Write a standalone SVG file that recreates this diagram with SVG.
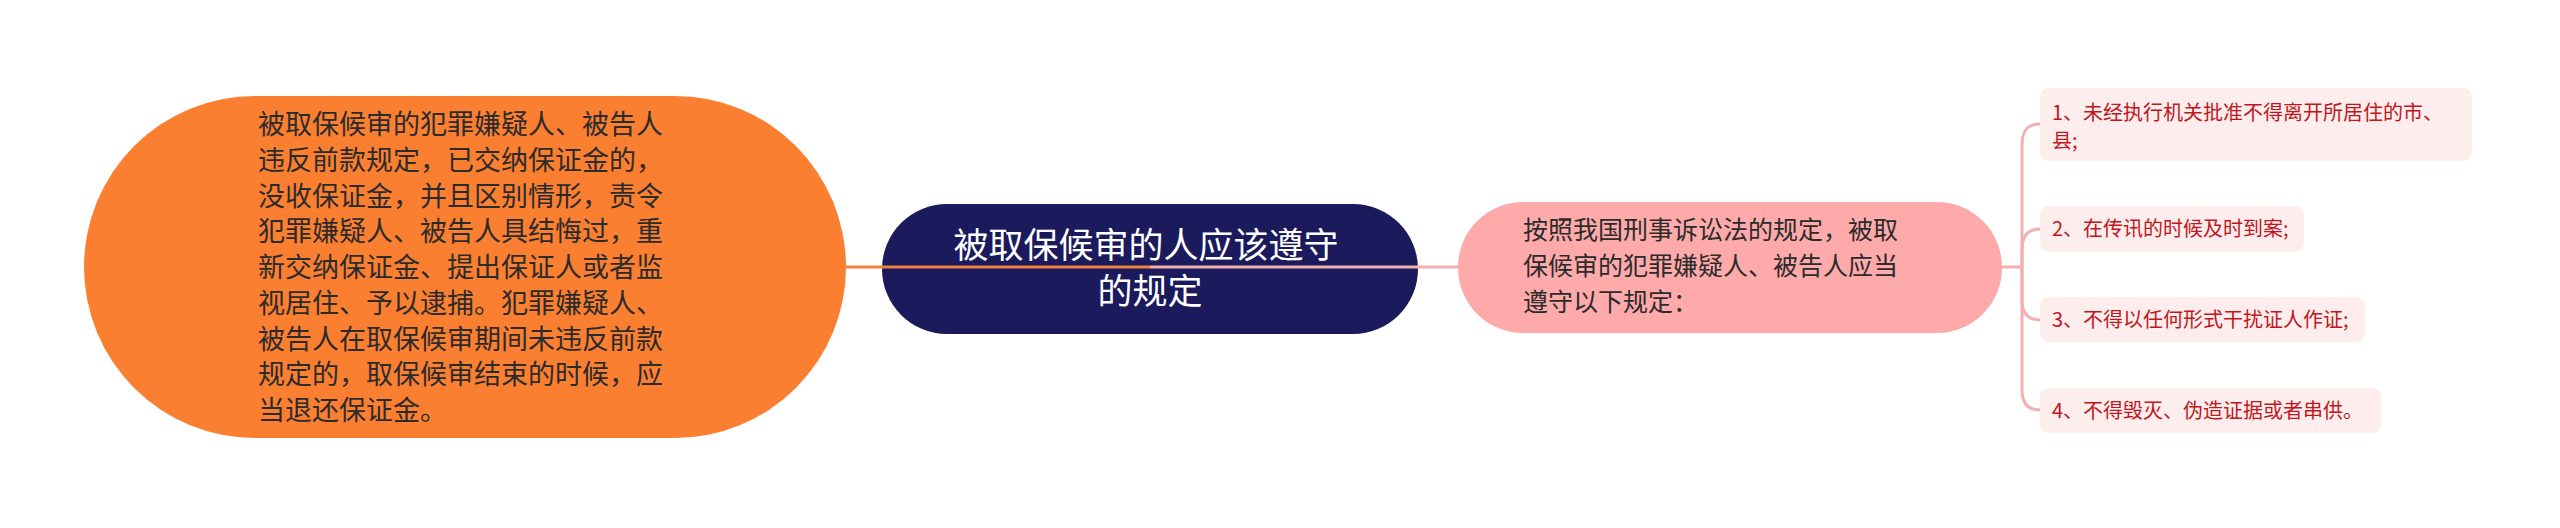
<svg xmlns="http://www.w3.org/2000/svg" width="2560" height="528" viewBox="0 0 2560 528">
<style>
text{font-family:"Noto Sans CJK SC","Noto Sans",sans-serif;}
.orange-t{font-size:27px;fill:#2b2b2b;}
.center-t{font-size:35px;fill:#ffffff;}
.pink-t{font-size:25px;fill:#2b2b2b;}
.leaf-t{font-size:20px;fill:#c0161c;}
.leaf{fill:#fdeded;}
.c-or{stroke:#f0803c;stroke-width:3;fill:none;}
.c-pk{stroke:#f3b0b0;stroke-width:3;fill:none;}
</style>
<rect width="2560" height="528" fill="#ffffff"/>
<g id="node-orange">
<rect x="84" y="96" width="762" height="342" rx="171" ry="171" fill="#fb7f31"/>
<text class="orange-t" x="258">
<tspan x="258" y="134">被取保候审的犯罪嫌疑人、被告人</tspan>
<tspan x="258" y="170">违反前款规定，已交纳保证金的，</tspan>
<tspan x="258" y="206">没收保证金，并且区别情形，责令</tspan>
<tspan x="258" y="241">犯罪嫌疑人、被告人具结悔过，重</tspan>
<tspan x="258" y="277">新交纳保证金、提出保证人或者监</tspan>
<tspan x="258" y="313">视居住、予以逮捕。犯罪嫌疑人、</tspan>
<tspan x="258" y="349">被告人在取保候审期间未违反前款</tspan>
<tspan x="258" y="384">规定的，取保候审结束的时候，应</tspan>
<tspan x="258" y="420">当退还保证金。</tspan>
</text>
</g>
<g id="node-center">
<rect x="882" y="204" width="536" height="130" rx="65" ry="65" fill="#1b1a5c"/>
<text class="center-t" text-anchor="middle">
<tspan x="1150" y="258">被取保候审的人应该遵守</tspan>
<tspan x="1150" y="304">的规定</tspan>
</text>
</g>
<g id="node-pink">
<rect x="1458" y="202" width="544" height="131" rx="65" ry="65" fill="#ffaaaa"/>
<text class="pink-t">
<tspan x="1523" y="239">按照我国刑事诉讼法的规定，被取</tspan>
<tspan x="1523" y="275">保候审的犯罪嫌疑人、被告人应当</tspan>
<tspan x="1523" y="311">遵守以下规定：</tspan>
</text>
</g>
<g id="leaf-1">
<rect class="leaf" x="2040" y="88" width="432" height="73" rx="9"/>
<text class="leaf-t"><tspan x="2052" y="120">1、未经执行机关批准不得离开所居住的市、</tspan><tspan x="2052" y="148">县;</tspan></text>
</g>
<g id="leaf-2">
<rect class="leaf" x="2040" y="206" width="264" height="46" rx="9"/>
<text class="leaf-t" x="2052" y="236">2、在传讯的时候及时到案;</text>
</g>
<g id="leaf-3">
<rect class="leaf" x="2040" y="297" width="325" height="45" rx="9"/>
<text class="leaf-t" x="2052" y="327">3、不得以任何形式干扰证人作证;</text>
</g>
<g id="leaf-4">
<rect class="leaf" x="2040" y="388" width="341" height="45" rx="9"/>
<text class="leaf-t" x="2052" y="418">4、不得毁灭、伪造证据或者串供。</text>
</g>
<g id="connectors">
<path class="c-or" d="M846,267 H1150"/>
<path class="c-pk" d="M1150,267 H1458"/>
<path class="c-pk" d="M2002,267 H2022"/>
<path class="c-pk" d="M2022,267 V145 C2022,130 2028,124 2040,124"/>
<path class="c-pk" d="M2022,267 V250 C2022,236 2028,229 2040,229"/>
<path class="c-pk" d="M2022,267 V300 C2022,313 2028,320 2040,320"/>
<path class="c-pk" d="M2022,267 V390 C2022,403 2028,410 2040,410"/>
</g>
</svg>
